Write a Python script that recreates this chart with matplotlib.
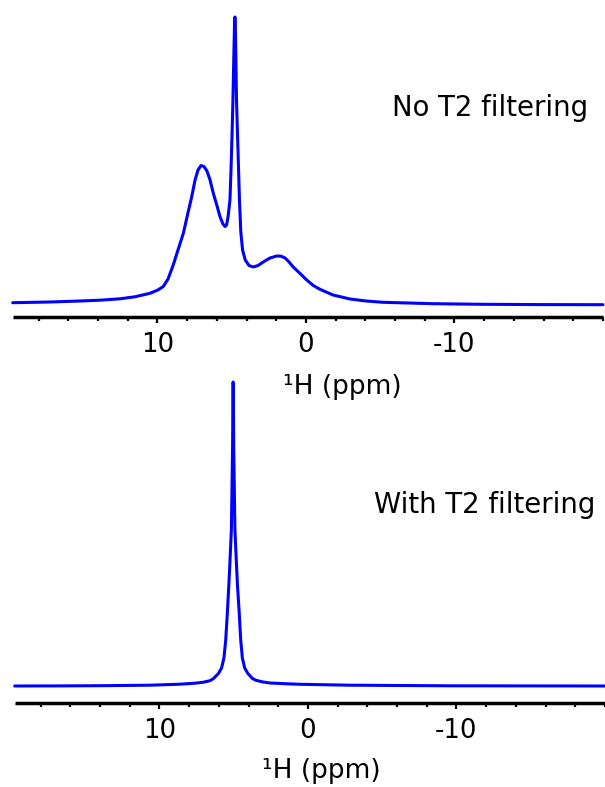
import matplotlib
matplotlib.use("Agg")
import matplotlib.pyplot as plt
from matplotlib.ticker import FixedLocator, MultipleLocator, NullFormatter

# ---------------- data (intensity in arbitrary units) ----------------
top_ppm = [19.75, 17.24, 15.22, 13.87, 12.53, 11.52, 10.51, 9.97, 9.61, 9.29, 8.94,
           8.62, 8.26, 7.95, 7.70, 7.47, 7.27, 7.07, 6.87, 6.67, 6.46, 6.24, 5.99,
           5.79, 5.59, 5.45, 5.35, 5.25, 5.12, 5.05, 4.98, 4.92, 4.85, 4.81, 4.79,
           4.76, 4.73, 4.68, 4.61, 4.54, 4.48, 4.39, 4.27, 4.09, 3.84, 3.55, 3.23,
           2.88, 2.42, 1.97, 1.68, 1.41, 1.14, 0.86, 0.40, -0.05, -0.47, -0.94,
           -1.82, -2.96, -4.04, -5.19, -8.55, -11.92, -15.76, -20.0]
top_int = [2.0, 2.7, 3.7, 4.5, 5.9, 7.9, 11.4, 14.7, 18.2, 25.7, 39.7,
           54.7, 71.4, 91.7, 107.7, 124.7, 134.7, 139.2, 138.2, 133.7, 124.7, 111.4, 98.7,
           88.0, 80.7, 78.2, 79.7, 87.7, 104.7, 134.7, 169.7, 204.7, 254.7, 282.7, 287.7,
           282.7, 254.7, 204.7, 169.7, 134.7, 104.7, 72.7, 54.7, 44.7, 39.2, 37.7, 39.2,
           42.7, 46.7, 48.7, 48.5, 46.7, 42.7, 37.7, 31.2, 24.7, 19.4, 15.4,
           9.7, 5.7, 3.7, 2.4, 1.0, 0.4, 0.1, 0.0]

bot_ppm = [19.75, 16.70, 14.01, 10.64, 8.62, 7.61, 7.07, 6.60, 6.36, 6.03, 5.82,
           5.66, 5.54, 5.43, 5.33, 5.25, 5.16, 5.12, 5.08, 5.06, 5.04, 5.02, 5.00,
           4.96, 4.92, 4.83, 4.75, 4.63, 4.53, 4.42, 4.26, 4.05, 3.74, 3.50, 3.03,
           2.56, 1.55, 0.54, -2.83, -9.56, -20.0]
bot_int = [0.0, 0.1, 0.3, 0.8, 1.8, 2.8, 3.7, 5.3, 7.5, 12.5, 18.0,
           28.0, 46.0, 73.0, 101.0, 126.0, 156.0, 196.0, 236.0, 276.0, 304.0, 276.0, 236.0,
           196.0, 156.0, 126.0, 101.0, 73.0, 46.0, 28.0, 18.0, 12.5, 7.5, 5.7, 4.0,
           3.0, 2.3, 1.7, 0.8, 0.2, 0.0]

panel_titles = ["No T2 filtering", "With T2 filtering"]
x_label = "\u00b9H (ppm)"
major_ticks = [10, 0, -10]
major_labels = ["10", "0", "-10"]

# ---------------- layout ----------------
W, H = 605, 787
fig = plt.figure(figsize=(W / 100, H / 100), dpi=100)
BLUE = "#0000FF"


def make_panel(ppm, inten, left, right, bottom, top, zero_px, px_per_unit,
               title, title_xy, label_xy):
    ax = fig.add_axes([left / W, 1 - bottom / H, (right - left) / W, (bottom - top) / H])
    ax.patch.set_visible(False)
    ymin = -(bottom - zero_px) / px_per_unit
    ymax = ymin + (bottom - top) / px_per_unit
    ax.plot(ppm, inten, color=BLUE, lw=2.2, solid_joinstyle="round",
            solid_capstyle="round", clip_on=False)
    ax.set_xlim(19.75, -20.0)
    ax.set_ylim(ymin, ymax)
    for s in ("left", "right", "top"):
        ax.spines[s].set_visible(False)
    ax.spines["bottom"].set_linewidth(2.5)
    ax.spines["bottom"].set_capstyle("butt")
    ax.set_yticks([])
    ax.xaxis.set_major_locator(FixedLocator(major_ticks))
    ax.set_xticklabels(major_labels)
    ax.xaxis.set_minor_locator(MultipleLocator(2))
    ax.xaxis.set_minor_formatter(NullFormatter())
    ax.tick_params(axis="x", which="major", direction="out", length=4.5, width=1.6,
                   labelsize=18.7, pad=6.0, colors="black")
    ax.tick_params(axis="x", which="minor", direction="out", length=2.8, width=1.6)
    ax.set_xlabel(x_label, fontsize=19)
    ax.xaxis.label.set_verticalalignment("baseline")
    ax.xaxis.label.set_horizontalalignment("center")
    lx = (label_xy[0] - left) / (right - left)
    ly = (bottom - label_xy[1]) / (bottom - top)
    ax.xaxis.set_label_coords(lx, ly)
    fig.text(title_xy[0] / W, 1 - title_xy[1] / H, title, ha="right", va="baseline",
             fontsize=19.8)
    return ax


make_panel(top_ppm, top_int, 12.7, 603, 317, 8, 304.7, 1.0,
           panel_titles[0], (588, 116.5), (342, 394))
make_panel(bot_ppm, bot_int, 14.7, 605, 703, 372, 686, 1.0,
           panel_titles[1], (595, 513), (321, 778))

fig.savefig("out.png", dpi=100)
